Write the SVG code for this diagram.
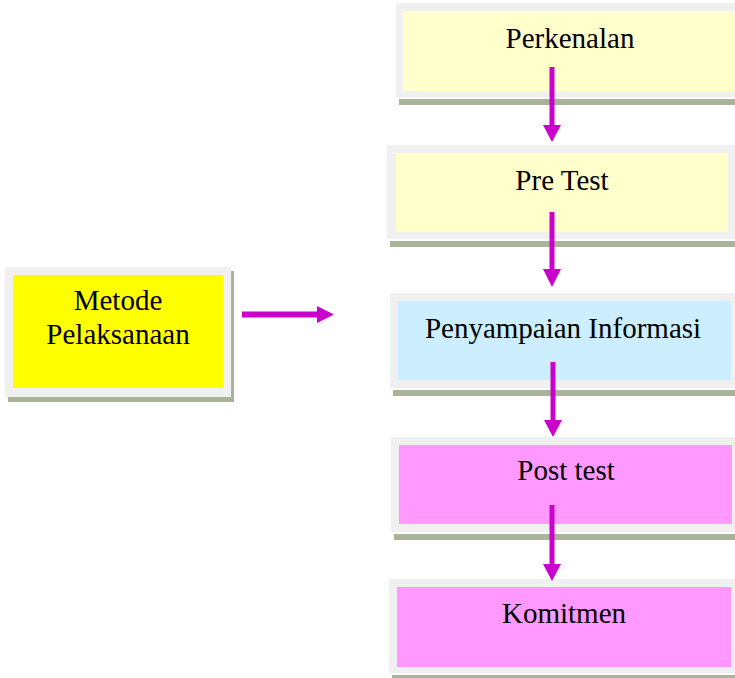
<svg xmlns="http://www.w3.org/2000/svg" width="735" height="678" viewBox="0 0 735 678">
<style>
.sh{fill:#a9b398}
.fr{fill:#f0f0f0}
.t{font-family:"Liberation Serif","Times New Roman",serif;font-size:29px;fill:#000;text-anchor:middle}
.ar{fill:#cc00cc}
</style>
<rect width="735" height="678" fill="#fff"/>
<g id="metode">
<rect class="sh" x="8" y="271" width="226" height="131"/>
<rect class="fr" x="5" y="267" width="226" height="130"/>
<rect x="13" y="275" width="210" height="113" fill="#ffff00"/>
<text class="t" x="118" y="310">Metode</text>
<text class="t" x="118" y="344">Pelaksanaan</text>
</g>
<g id="perkenalan">
<rect class="sh" x="399" y="99" width="340" height="6"/>
<rect class="fr" x="396" y="3" width="345" height="94"/>
<rect x="403" y="11" width="340" height="80" fill="#ffffcc"/>
<text class="t" x="570" y="48">Perkenalan</text>
</g>
<g id="pretest">
<rect class="sh" x="390" y="241" width="350" height="6"/>
<rect class="fr" x="387" y="145" width="350" height="94"/>
<rect x="396" y="153" width="332" height="79" fill="#ffffcc"/>
<text class="t" x="562" y="190">Pre Test</text>
</g>
<g id="penyampaian">
<rect class="sh" x="393" y="390" width="350" height="6"/>
<rect class="fr" x="390" y="293" width="350" height="95"/>
<rect x="398" y="301" width="333" height="79" fill="#cceeff"/>
<text class="t" x="563" y="338">Penyampaian Informasi</text>
</g>
<g id="posttest">
<rect class="sh" x="394" y="534" width="350" height="6"/>
<rect class="fr" x="391" y="437" width="350" height="95"/>
<rect x="399" y="445" width="333" height="79" fill="#ff99ff"/>
<text class="t" x="566" y="480">Post test</text>
</g>
<g id="komitmen">
<rect class="sh" x="392" y="675" width="350" height="6"/>
<rect class="fr" x="389" y="579" width="350" height="94"/>
<rect x="397" y="587" width="334" height="80" fill="#ff99ff"/>
<text class="t" x="564" y="623">Komitmen</text>
</g>
<g id="connectors">
<path class="ar" d="M242,311.5H317V306L334,314.5L317,323V317.5H242Z"/>
<path class="ar" d="M549.5,67H554.5V125H561L552,142L543,125H549.5Z"/>
<path class="ar" d="M549.5,212H554.5V269H561L552,287L543,269H549.5Z"/>
<path class="ar" d="M550.5,362H555.5V420H562L553,437L544,420H550.5Z"/>
<path class="ar" d="M549.5,505H554.5V564H561L552,581L543,564H549.5Z"/>
</g>
</svg>
